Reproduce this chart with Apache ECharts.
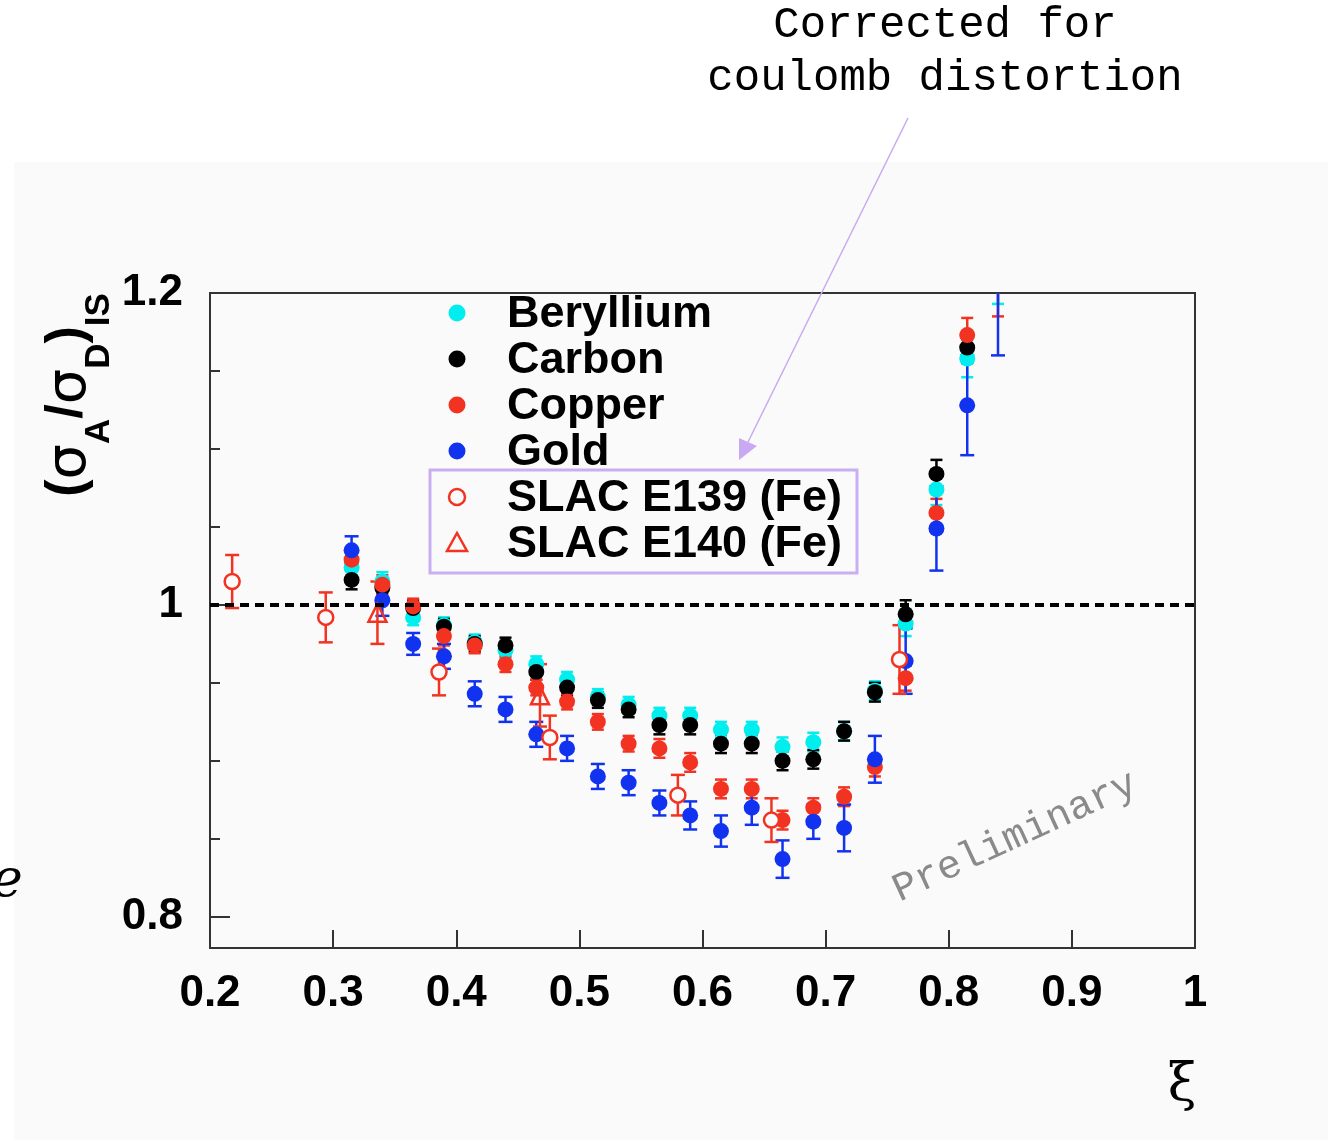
<!DOCTYPE html>
<html>
<head>
<meta charset="utf-8">
<script src="https://cdn.jsdelivr.net/npm/echarts@6/dist/echarts.min.js"></script>
<style>
  html, body { margin: 0; padding: 0; background: #fff; }
  #chart { width: 1328px; height: 1140px; }
</style>
</head>
<body>
<div id="chart"></div>
<script>
// xi bins shared by the four nuclei
const xi = [0.315, 0.34, 0.365, 0.39, 0.415, 0.44, 0.465, 0.49, 0.515, 0.54, 0.565,
            0.59, 0.615, 0.64, 0.665, 0.69, 0.715, 0.74, 0.765, 0.79, 0.815, 0.84];

const beryllium    = [1.024, 1.015, 0.992, 0.987, 0.976, 0.971, 0.962, 0.952, 0.941, 0.936, 0.929,
                      0.929, 0.920, 0.920, 0.909, 0.912, 0.919, 0.945, 0.988, 1.074, 1.158, 1.210];
const berylliumErr = [0.006, 0.006, 0.005, 0.005, 0.005, 0.005, 0.005, 0.005, 0.005, 0.005, 0.005,
                      0.005, 0.005, 0.005, 0.006, 0.006, 0.006, 0.006, 0.008, 0.010, 0.012, 0.017];

const carbon    = [1.016, 1.011, 0.998, 0.986, 0.975, 0.974, 0.957, 0.947, 0.939, 0.933, 0.923,
                   0.923, 0.911, 0.911, 0.900, 0.901, 0.919, 0.944, 0.994, 1.084, 1.165, null];
const carbonErr = [0.006, 0.006, 0.005, 0.005, 0.005, 0.005, 0.005, 0.005, 0.005, 0.005, 0.006,
                   0.006, 0.006, 0.006, 0.006, 0.006, 0.006, 0.006, 0.009, 0.009, 0.010, null];

const copper    = [1.029, 1.013, 0.999, 0.980, 0.974, 0.962, 0.947, 0.938, 0.925, 0.911, 0.908,
                   0.899, 0.882, 0.882, 0.862, 0.870, 0.877, 0.896, 0.953, 1.059, 1.173, 1.215];
const copperErr = [0.006, 0.006, 0.005, 0.006, 0.005, 0.005, 0.005, 0.005, 0.005, 0.005, 0.006,
                   0.006, 0.006, 0.006, 0.006, 0.006, 0.006, 0.006, 0.008, 0.009, 0.011, 0.030];

const gold    = [1.035, 1.003, 0.975, 0.967, 0.943, 0.933, 0.917, 0.908, 0.890, 0.886, 0.873,
                 0.865, 0.855, 0.870, 0.837, 0.861, 0.857, 0.901, 0.964, 1.049, 1.128, 1.210];
const goldErr = [0.009, 0.010, 0.007, 0.008, 0.008, 0.008, 0.008, 0.008, 0.008, 0.008, 0.008,
                 0.009, 0.010, 0.011, 0.012, 0.011, 0.015, 0.015, 0.021, 0.027, 0.032, 0.050];

// SLAC iron data
const e139Xi  = [0.218, 0.294, 0.386, 0.476, 0.580, 0.656, 0.760];
const e139    = [1.015, 0.992, 0.957, 0.915, 0.878, 0.862, 0.965];
const e139Err = [0.017, 0.016, 0.015, 0.014, 0.013, 0.014, 0.022];

const e140Xi  = [0.336, 0.468];
const e140    = [0.995, 0.942];
const e140Err = [0.020, 0.020];

const yLabelValues = [0.8, 1, 1.2];
const yMinorValues = [0.85, 0.9, 0.95, 1.05, 1.1, 1.15];

const legendNames = ['Beryllium', 'Carbon', 'Copper', 'Gold', 'SLAC E139 (Fe)', 'SLAC E140 (Fe)'];

const CYAN = '#00eeee', BLACK = '#000000', RED = '#f23322', BLUE = '#1133f0';
const BG = '#fafafa';
const SANS = '"Liberation Sans", Arial, Helvetica, sans-serif';
const MONO = '"Liberation Mono", "Courier New", monospace';

const points = (xs, ys) => xs.map((x, i) => [x, ys[i]]).filter(p => p[1] != null);
const withErr = (xs, ys, es) => xs.map((x, i) => [x, ys[i], es[i]]).filter(p => p[1] != null);

function errorBars(name, data, color, cap) {
  return {
    type: 'custom',
    name: name,
    data: data,
    encode: { x: 0, y: 1 },
    silent: true,
    renderItem: function (params, api) {
      const x = api.value(0), y = api.value(1), e = api.value(2);
      const hi = api.coord([x, y + e]);
      const lo = api.coord([x, y - e]);
      const cs = params.coordSys;
      const top = Math.max(hi[1], cs.y);
      const bottom = Math.min(lo[1], cs.y + cs.height);
      if (bottom <= cs.y) return null;
      const st = { stroke: color, lineWidth: 2.5 };
      const children = [{ type: 'line', shape: { x1: hi[0], y1: top, x2: hi[0], y2: bottom }, style: st }];
      if (hi[1] >= cs.y) children.push({ type: 'line', shape: { x1: hi[0] - cap, y1: hi[1], x2: hi[0] + cap, y2: hi[1] }, style: st });
      if (lo[1] >= cs.y) children.push({ type: 'line', shape: { x1: lo[0] - cap, y1: lo[1], x2: lo[0] + cap, y2: lo[1] }, style: st });
      return { type: 'group', children: children };
    }
  };
}

function dots(name, data, color) {
  return { type: 'scatter', name: name, data: data, symbol: 'circle', symbolSize: 16, clip: true,
           itemStyle: { color: color, opacity: 1 } };
}

const chart = echarts.init(document.getElementById('chart'));

const legendRows = [313, 359, 405, 451, 497, 543];
const legendMarkers = [
  { type: 'circle', shape: { cx: 457, cy: legendRows[0], r: 8.5 }, style: { fill: CYAN } },
  { type: 'circle', shape: { cx: 457, cy: legendRows[1], r: 8.5 }, style: { fill: BLACK } },
  { type: 'circle', shape: { cx: 457, cy: legendRows[2], r: 8.5 }, style: { fill: RED } },
  { type: 'circle', shape: { cx: 457, cy: legendRows[3], r: 8.5 }, style: { fill: BLUE } },
  { type: 'circle', shape: { cx: 457, cy: legendRows[4], r: 8 }, style: { fill: 'none', stroke: RED, lineWidth: 2.5 } },
  { type: 'polygon', shape: { points: [[457, legendRows[5] - 10], [467, legendRows[5] + 8], [447, legendRows[5] + 8]] },
    style: { fill: 'none', stroke: RED, lineWidth: 2.5 } }
];
const legendTexts = legendNames.map((n, i) => ({
  type: 'text', x: 507, y: legendRows[i] + 2,
  style: { text: n, font: 'bold 45px ' + SANS, fill: '#000', textAlign: 'left', textVerticalAlign: 'middle',
           align: 'left', verticalAlign: 'middle' }
}));

const option = {
  animation: false,
  backgroundColor: '#ffffff',
  grid: { left: 210, top: 293, width: 985, height: 655, show: true,
          borderColor: '#333', borderWidth: 2, backgroundColor: 'transparent' },
  xAxis: {
    type: 'value', min: 0.2, max: 1, interval: 0.1,
    axisLine: { show: false },
    axisTick: { inside: true, length: 18, lineStyle: { color: '#333', width: 2 } },
    axisLabel: { margin: 24, color: '#000', fontSize: 44, fontWeight: 'bold', fontFamily: SANS,
                 formatter: v => (Math.abs(v - 1) < 1e-9 ? '1' : v.toFixed(1)) },
    splitLine: { show: false }
  },
  yAxis: [
    {
      type: 'value', min: 0.78, max: 1.2,
      axisLine: { show: false },
      axisTick: { inside: true, length: 20, customValues: yLabelValues, lineStyle: { color: '#333', width: 2 } },
      axisLabel: { margin: 27, color: '#000', fontSize: 44, fontWeight: 'bold', fontFamily: SANS,
                   customValues: yLabelValues,
                   formatter: v => (Math.abs(v - 1) < 1e-9 ? '1' : v.toFixed(1)) },
      splitLine: { show: false }
    },
    {
      type: 'value', min: 0.78, max: 1.2, position: 'left',
      axisLine: { show: false },
      axisTick: { inside: true, length: 10, customValues: yMinorValues, lineStyle: { color: '#333', width: 2 } },
      axisLabel: { show: false },
      splitLine: { show: false }
    }
  ],
  series: [
    errorBars('Be err', withErr(xi, beryllium, berylliumErr), CYAN, 6),
    dots('Beryllium', points(xi, beryllium), CYAN),
    errorBars('C err', withErr(xi, carbon, carbonErr), BLACK, 6),
    dots('Carbon', points(xi, carbon), BLACK),
    errorBars('Cu err', withErr(xi, copper, copperErr), RED, 6),
    dots('Copper', points(xi, copper), RED),
    errorBars('Au err', withErr(xi, gold, goldErr), BLUE, 7),
    dots('Gold', points(xi, gold), BLUE),
    errorBars('E139 err', withErr(e139Xi, e139, e139Err), RED, 7),
    { type: 'scatter', name: 'SLAC E139 (Fe)', data: points(e139Xi, e139), symbol: 'circle', symbolSize: 15,
      itemStyle: { color: BG, borderColor: RED, borderWidth: 2.5, opacity: 1 } },
    errorBars('E140 err', withErr(e140Xi, e140, e140Err), RED, 7),
    { type: 'scatter', name: 'SLAC E140 (Fe)', data: points(e140Xi, e140), symbol: 'triangle', symbolSize: 18,
      itemStyle: { color: 'rgba(0,0,0,0)', borderColor: RED, borderWidth: 2.5, opacity: 1 },
      markLine: { silent: true, symbol: ['none', 'none'], label: { show: false },
                  lineStyle: { color: '#000', width: 4, type: [9, 6], opacity: 1 },
                  data: [{ yAxis: 1 }] } }
  ],
  graphic: [
    { type: 'rect', z: -10, shape: { x: 14, y: 162, width: 1314, height: 978 }, style: { fill: BG } },
    // note above the frame
    { type: 'text', x: 945, y: 25, style: { text: 'Corrected for', font: '44px ' + MONO, fill: '#000',
      textAlign: 'center', textVerticalAlign: 'middle', align: 'center', verticalAlign: 'middle' } },
    { type: 'text', x: 945, y: 78, style: { text: 'coulomb distortion', font: '44px ' + MONO, fill: '#000',
      textAlign: 'center', textVerticalAlign: 'middle', align: 'center', verticalAlign: 'middle' } },
    { type: 'line', z: 20, shape: { x1: 908, y1: 118, x2: 748, y2: 442 }, style: { stroke: '#c9aaf2', lineWidth: 1.5 } },
    { type: 'polygon', z: 20, shape: { points: [[739, 460], [739, 438], [757, 446]] }, style: { fill: '#c9aaf2' } },
    // legend
    { type: 'rect', z: 20, shape: { x: 430, y: 470, width: 427, height: 103 },
      style: { fill: 'none', stroke: '#c9aef2', lineWidth: 3 } },
    ...legendMarkers.map(m => Object.assign({ z: 20 }, m)),
    ...legendTexts.map(t => Object.assign({ z: 20 }, t)),
    // axis titles
    { type: 'text', x: 68, y: 395, rotation: Math.PI / 2, z: 20,
      style: {
        text: '{m|(}{g|σ}{s|A}{m|/}{g|σ}{s|D}{m|)}{s|IS}',
        fill: '#000', textAlign: 'center', textVerticalAlign: 'middle', align: 'center', verticalAlign: 'middle',
        rich: {
          m: { fontSize: 52, fontWeight: 'bold', fontFamily: SANS, lineHeight: 52, verticalAlign: 'top' },
          g: { fontSize: 56, fontWeight: 'normal', fontFamily: '"DejaVu Sans", sans-serif', lineHeight: 52, verticalAlign: 'top' },
          s: { fontSize: 35, fontWeight: 'bold', fontFamily: SANS, lineHeight: 35, padding: [40, 0, 0, 0], verticalAlign: 'top' }
        }
      } },
    { type: 'text', x: 1182, y: 1086, z: 20, style: { text: 'ξ', font: '52px "DejaVu Serif", serif', fill: '#000',
      textAlign: 'center', textVerticalAlign: 'middle', align: 'center', verticalAlign: 'middle' } },
    { type: 'text', x: 1015, y: 837, rotation: 0.43, z: 20,
      style: { text: 'Preliminary', font: '40px ' + MONO, fill: '#8a8a8a',
      textAlign: 'center', textVerticalAlign: 'middle', align: 'center', verticalAlign: 'middle' } },
    { type: 'text', x: -8, y: 882, z: 20, style: { text: 'e', font: 'italic 52px "DejaVu Serif", serif', fill: '#000',
      textAlign: 'left', textVerticalAlign: 'middle', align: 'left', verticalAlign: 'middle' } }
  ]
};

chart.setOption(option);
</script>
</body>
</html>
